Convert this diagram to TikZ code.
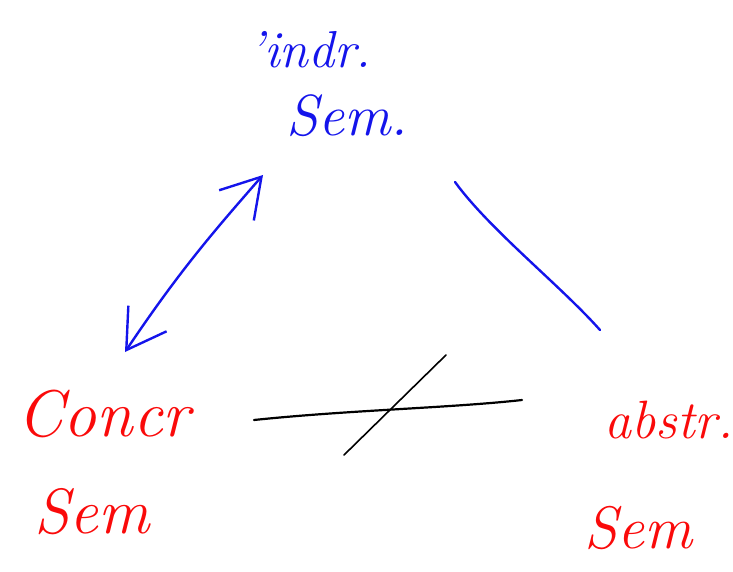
\documentclass[tikz,border=0pt]{standalone}
\usepackage{fontspec}
\usetikzlibrary{arrows.meta}
\definecolor{pblue}{RGB}{20,20,235}
\definecolor{pred}{RGB}{250,10,10}
\newcommand{\penfont}[1]{\itshape\fontsize{#1}{#1}\selectfont}
\tikzset{
  lbl/.style={inner sep=0pt, align=center},
  bluelbl/.style={lbl, text=pblue},
  redlbl/.style={lbl, text=pred},
  pen/.style={line width=2.4pt, line cap=round, line join=round},
  harrow/.style={pen, pblue, {Straight Barb[length=38pt,width=46pt,line width=2.4pt]}-{Straight Barb[length=38pt,width=46pt,line width=2.4pt]}},
}
\begin{document}
\begin{tikzpicture}[x=1pt,y=-1pt]
\useasboundingbox (0,0) rectangle (733,572);
\node[bluelbl, font=\penfont{52}] (top1) at (310,50) {'indr.};
\node[bluelbl, font=\penfont{58}] (top2) at (347,116) {Sem.};
\node[redlbl, font=\penfont{66}] (left1) at (104,414) {Concr};
\node[redlbl, font=\penfont{64}] (left2) at (92,512) {Sem};
\node[redlbl, font=\penfont{54}] (right1) at (669,420) {abstr.};
\node[redlbl, font=\penfont{60}] (right2) at (638,528) {Sem};
\coordinate (a1) at (263,175);
\coordinate (a2) at (125,352);
\draw[harrow] (a2) .. controls (180,270) and (215,230) .. (a1);
\coordinate (b1) at (455,182);
\coordinate (b2) at (600,330);
\draw[pen, pblue] (b1) .. controls (490,230) and (560,285) .. (b2);
\coordinate (c1) at (254,420);
\coordinate (c2) at (522,400);
\draw[pen, line width=2.2pt, black] (c1) .. controls (350,410) and (450,408) .. (c2);
\coordinate (d1) at (344,455);
\coordinate (d2) at (446,355);
\draw[pen, line width=1.6pt, black] (d1) -- (d2);
\end{tikzpicture}
\end{document}
